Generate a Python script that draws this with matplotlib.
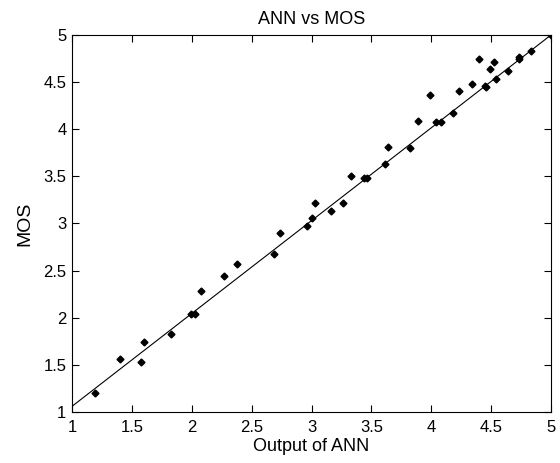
import matplotlib
matplotlib.use("Agg")
import matplotlib.pyplot as plt

plt.rcParams['font.family'] = ['Liberation Sans', 'DejaVu Sans']

# ANN output vs measured MOS
ann = [1.19, 1.40, 1.58, 1.60, 1.83, 1.99, 2.03, 2.08, 2.27, 2.38,
       2.69, 2.74, 2.96, 3.00, 3.03, 3.16, 3.26, 3.33, 3.44, 3.46,
       3.61, 3.64, 3.82, 3.89, 3.99, 4.04, 4.08, 4.18, 4.23, 4.34,
       4.40, 4.45, 4.46, 4.49, 4.52, 4.54, 4.64, 4.73, 4.73, 4.83, 5.00]
mos = [1.20, 1.56, 1.53, 1.74, 1.83, 2.04, 2.04, 2.28, 2.44, 2.57,
       2.68, 2.90, 2.97, 3.06, 3.22, 3.13, 3.22, 3.50, 3.48, 3.48,
       3.63, 3.81, 3.80, 4.09, 4.36, 4.08, 4.08, 4.17, 4.41, 4.48,
       4.74, 4.46, 4.45, 4.64, 4.71, 4.53, 4.62, 4.75, 4.77, 4.83, 5.00]

fit_x = [1.0, 5.0]
fit_y = [1.06, 5.0]

ticks = [1, 1.5, 2, 2.5, 3, 3.5, 4, 4.5, 5]
tick_labels = ['1', '1.5', '2', '2.5', '3', '3.5', '4', '4.5', '5']

fig = plt.figure(figsize=(5.6, 4.63), dpi=100)
ax = fig.add_axes([0.1286, 0.1102, 0.8554, 0.8143])

ax.plot(fit_x, fit_y, color='black', linewidth=0.8)
ax.plot(ann, mos, linestyle='none', marker='D', markersize=3.5, color='black')

ax.set_xlim(1, 5)
ax.set_ylim(1, 5)
ax.set_xticks(ticks)
ax.set_xticklabels(tick_labels)
ax.set_yticks(ticks)
ax.set_yticklabels(tick_labels)
ax.tick_params(direction='in', top=True, right=True, labelsize=12, length=5)
ax.tick_params(axis='x', pad=6)
ax.tick_params(axis='y', pad=4)
for s in ax.spines.values():
    s.set_linewidth(0.8)

ax.set_title('ANN vs MOS', fontsize=13, pad=8)
ax.set_xlabel('Output of ANN', fontsize=13, labelpad=2)
ax.set_ylabel('MOS', fontsize=14, labelpad=7)

plt.savefig('out.png', dpi=100)
